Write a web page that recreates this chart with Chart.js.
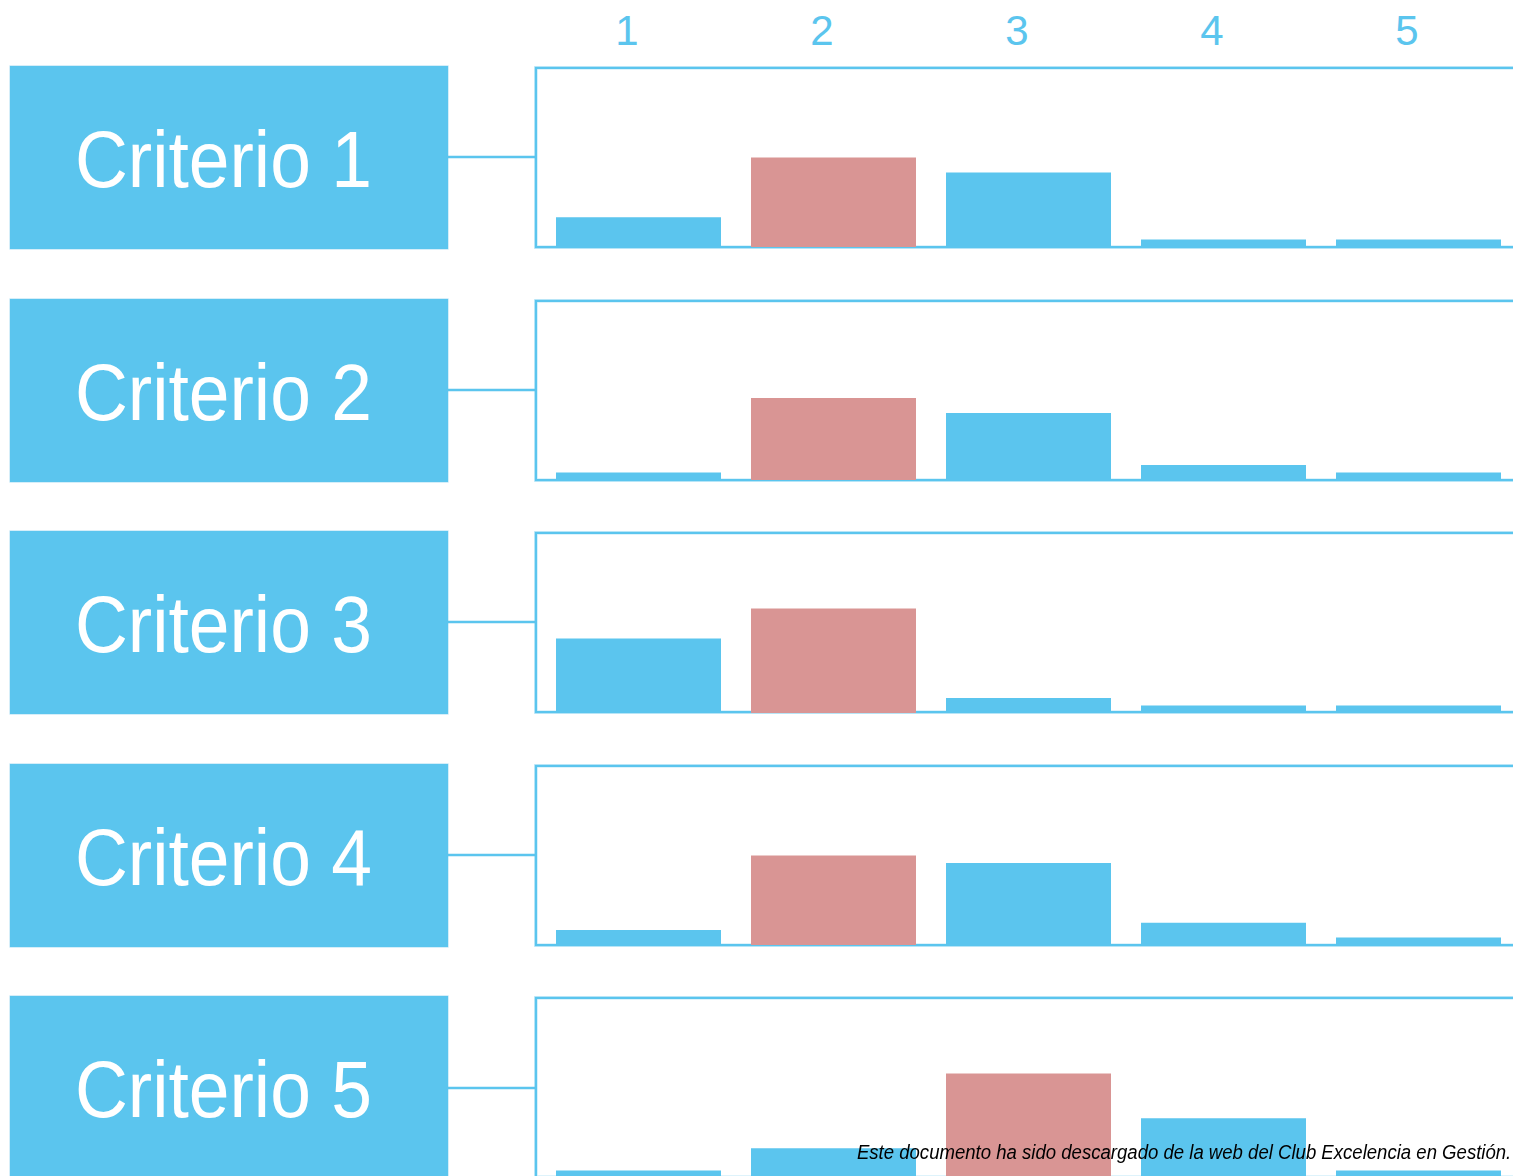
<!DOCTYPE html>
<html>
<head>
<meta charset="utf-8">
<script src="https://cdn.jsdelivr.net/npm/chart.js@4.4.1/dist/chart.umd.min.js"></script>
<style>
  html, body { margin: 0; padding: 0; background: #ffffff; }
  #wrap { position: relative; width: 1513px; height: 1176px; overflow: hidden; background: #fff; }
  .box { position: absolute; left: 9.5px; width: 438px; height: 183px; background: #5BC5EE; box-shadow: 0 0 0 0.6px #b9e3f6; }
  .boxtxt { position: absolute; white-space: nowrap; color: #ffffff;
            font-family: "Liberation Sans", Arial, sans-serif; font-size: 80px; line-height: 80px;
            transform-origin: 0 0; }
  .conn { position: absolute; left: 447px; width: 89px; height: 2px; background: #5BC5EE;
          box-shadow: 0 0 0 0.5px rgba(91,197,238,0.5); }
  .panel { position: absolute; left: 535px; width: 1000px; height: 181px; box-sizing: border-box;
           border: 2px solid #5BC5EE; box-shadow: 0 0 0 0.8px rgba(91,197,238,0.55), inset 0 0 0 0.6px rgba(91,197,238,0.4); }
  .cv { position: absolute; left: 541px; width: 975px; height: 179px; z-index: 2; }
  .top { position: absolute; top: 9.5px; width: 195px; text-align: center; color: #5BC5EE;
         font-family: "Liberation Sans", Arial, sans-serif; font-size: 42px; line-height: 42px; }
  #foot { position: absolute; white-space: nowrap; color: #000; z-index: 5;
          font-family: "Liberation Sans", Arial, sans-serif; font-style: italic; font-size: 19.5px; line-height: 20px;
          transform-origin: 100% 0; }
</style>
</head>
<body>
<div id="wrap"></div>
<script>
// ---- data ----
const criterios = ['Criterio 1', 'Criterio 2', 'Criterio 3', 'Criterio 4', 'Criterio 5'];
const puntuaciones = ['1', '2', '3', '4', '5'];
const criterio1 = [4, 12, 10, 1, 1];
const criterio2 = [1, 11, 9, 2, 1];
const criterio3 = [10, 14, 2, 1, 1];
const criterio4 = [2, 12, 11, 3, 1];
const criterio5 = [1, 4, 14, 8, 1];
const destacado = [1, 1, 1, 1, 2];   // index of the highlighted (pink) bar per criterio
const escalaMax = 24;
const nota = 'Este documento ha sido descargado de la web del Club Excelencia en Gestión.';

const series = [criterio1, criterio2, criterio3, criterio4, criterio5];
const AZUL = '#5BC5EE';
const ROSA = '#D99594';

const wrap = document.getElementById('wrap');
const rowStep = 232.6;
const row0 = 66.7;

const mctx = document.createElement('canvas').getContext('2d');
function inkWidth(font, txt) {
  mctx.font = font;
  const m = mctx.measureText(txt);
  return { ink: m.actualBoundingBoxLeft + m.actualBoundingBoxRight, adv: m.width, left: m.actualBoundingBoxLeft };
}

// top score labels
puntuaciones.forEach((p, i) => {
  const d = document.createElement('div');
  d.className = 'top';
  d.textContent = p;
  d.style.left = (627 + i * 195 - 97.5) + 'px';
  wrap.appendChild(d);
});

const labelFont = '80px "Liberation Sans", Arial, sans-serif';
const refM = inkWidth(labelFont, criterios[0]);
const labelScale = 290 / refM.ink;

criterios.forEach((name, i) => {
  const top = row0 + i * rowStep;

  const box = document.createElement('div');
  box.className = 'box';
  box.style.top = (top - 0.7) + 'px';
  wrap.appendChild(box);

  const t = document.createElement('div');
  t.className = 'boxtxt';
  t.textContent = name;
  const m = inkWidth(labelFont, name);
  t.style.top = (top + 121 - 67.7) + 'px';
  t.style.left = (79 + m.left * labelScale) + 'px';
  t.style.transform = 'scaleX(' + labelScale + ')';
  wrap.appendChild(t);

  const c = document.createElement('div');
  c.className = 'conn';
  c.style.top = (top + 89.5) + 'px';
  wrap.appendChild(c);

  const p = document.createElement('div');
  p.className = 'panel';
  p.style.top = (top + 0.3) + 'px';
  wrap.appendChild(p);

  const cv = document.createElement('canvas');
  cv.className = 'cv';
  cv.style.top = (top + 1.6) + 'px';
  cv.width = 975; cv.height = 179;
  wrap.appendChild(cv);

  const colors = series[i].map((v, k) => (k === destacado[i] ? ROSA : AZUL));

  new Chart(cv, {
    type: 'bar',
    data: {
      labels: puntuaciones,
      datasets: [{
        label: name,
        data: series[i],
        backgroundColor: colors,
        borderWidth: 0,
        barPercentage: 165 / 195,
        categoryPercentage: 1.0
      }]
    },
    options: {
      responsive: false,
      animation: false,
      events: [],
      layout: { padding: 0 },
      plugins: { legend: { display: false }, tooltip: { enabled: false }, title: { display: false } },
      scales: {
        x: { display: false, offset: true, grid: { display: false } },
        y: { display: false, min: 0, max: escalaMax, grid: { display: false } }
      }
    }
  });
});

// footer note
const f = document.createElement('div');
f.id = 'foot';
f.textContent = nota;
const footFont = 'italic 19.5px "Liberation Sans", Arial, sans-serif';
const fm = inkWidth(footFont, nota);
const footScale = 653 / fm.ink;
f.style.left = (1511 - fm.adv) + 'px';
f.style.top = (1158 - 16.5) + 'px';
f.style.transform = 'scaleX(' + footScale + ')';
wrap.appendChild(f);
</script>
</body>
</html>
